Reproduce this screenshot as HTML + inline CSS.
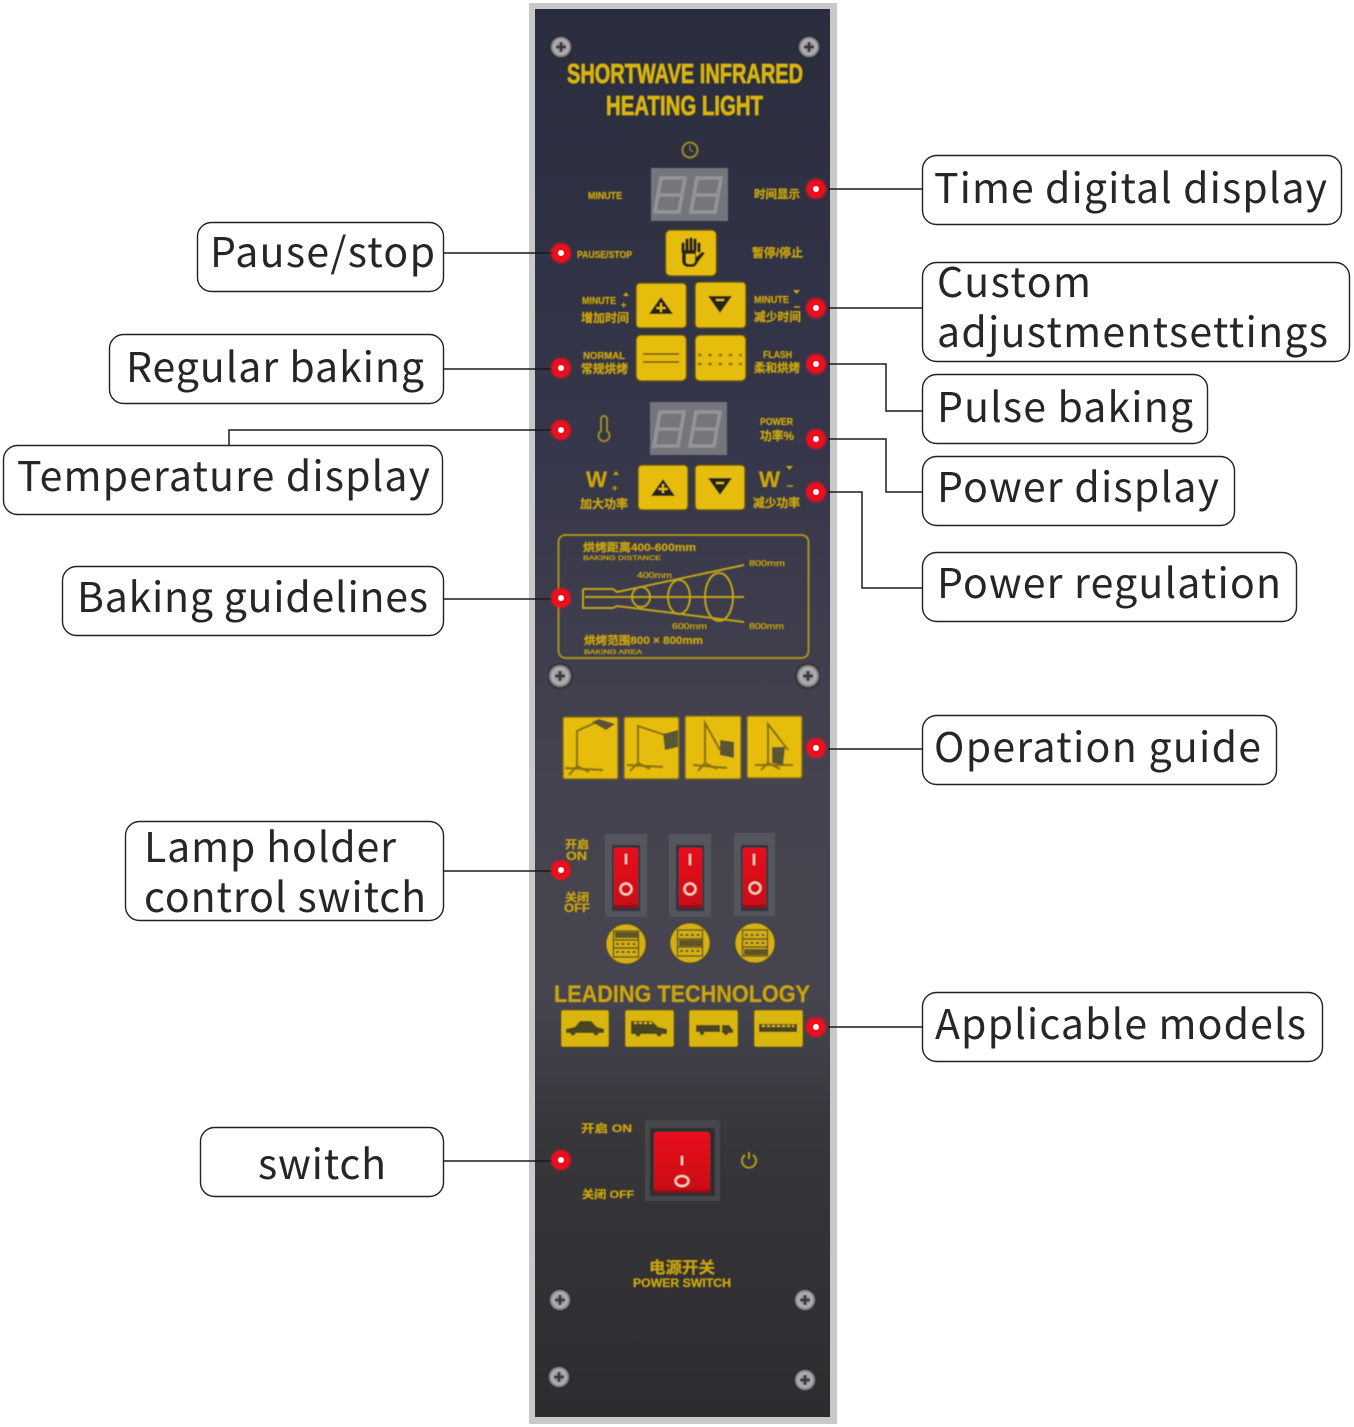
<!DOCTYPE html>
<html lang="en"><head><meta charset="utf-8"><title>Shortwave infrared heating light panel</title>
<style>
html,body{margin:0;padding:0;background:#fff}
svg{display:block}
.lb{font-family:"Noto Sans CJK SC","Liberation Sans",sans-serif;font-size:41px;fill:#262626}
.y{font-family:"Liberation Sans","Noto Sans CJK SC",sans-serif;font-weight:700;fill:#c9a40e;stroke:#c9a40e;stroke-width:.3}
.box{fill:#fff;stroke:#222;stroke-width:1.4}
.c{fill:none;stroke:#1a1a1a;stroke-width:1.5}
.btn{fill:#e6bd10;stroke:#5c5118;stroke-width:1.5}
.dg{fill:none;stroke:#939498;stroke-width:3.6}
.ic{fill:none;stroke:#8a7310;stroke-width:2.2}
.gl{fill:none;stroke:#c2a416;stroke-width:2}
.sw{fill:none;stroke:#f0d8c8;stroke-width:2}
.rk{fill:none;stroke:#5f5522;stroke-width:1.4}
</style></head><body>
<svg width="1354" height="1427" viewBox="0 0 1354 1427" xmlns="http://www.w3.org/2000/svg">
<defs>
<linearGradient id="pg" x1="0" y1="0" x2="0" y2="1">
<stop offset="0" stop-color="#2a2d3e"/><stop offset=".3" stop-color="#35364a"/><stop offset=".55" stop-color="#45434f"/><stop offset=".7" stop-color="#46444f"/><stop offset=".8" stop-color="#37363b"/><stop offset="1" stop-color="#2d2c2f"/>
</linearGradient>
<linearGradient id="rd" x1="0" y1="0" x2="0" y2="1"><stop offset="0" stop-color="#e8101c"/><stop offset=".92" stop-color="#cc0e16"/><stop offset="1" stop-color="#7c0a10"/></linearGradient>
<radialGradient id="scr"><stop offset="0" stop-color="#77777a"/><stop offset=".65" stop-color="#b4b4b6"/><stop offset="1" stop-color="#58585d"/></radialGradient>
<filter id="soft" x="0" y="0" width="1" height="1"><feGaussianBlur stdDeviation="0.65"/></filter>
<filter id="glow" x="-60%" y="-60%" width="220%" height="220%"><feGaussianBlur stdDeviation="1.3"/></filter>
</defs>

<rect x="529" y="3" width="308" height="1421" fill="#c9c9c9"/>
<rect x="535" y="9" width="295" height="1408" fill="url(#pg)"/>

<g filter="url(#soft)">
<!-- screws -->
<g fill="url(#scr)" stroke="#2b2b2e" stroke-width="1.5">
<circle cx="561" cy="47" r="11"/><circle cx="809" cy="47" r="11"/><circle cx="560" cy="676" r="12"/><circle cx="808" cy="676" r="12"/><circle cx="560" cy="1300" r="11"/><circle cx="805" cy="1300" r="11"/><circle cx="559" cy="1377" r="11"/><circle cx="805" cy="1380" r="11"/>
</g>
<g stroke="#3a3a3c" stroke-width="3">
<path d="M556 47h10M561 42v10M804 47h10M809 42v10M555 676h10M560 671v10M803 676h10M808 671v10M555 1300h10M560 1295v10M800 1300h10M805 1295v10M554 1377h10M559 1372v10M800 1380h10M805 1375v10"/>
</g>

<!-- title -->
<text class="y" x="567" y="83" font-size="27.500" textLength="236" lengthAdjust="spacingAndGlyphs" style="fill:#d8b410;stroke:#d8b410;stroke-width:.8">SHORTWAVE  INFRARED</text>
<text class="y" x="606" y="115" font-size="27.500" textLength="157" lengthAdjust="spacingAndGlyphs" style="fill:#d8b410;stroke:#d8b410;stroke-width:.8">HEATING LIGHT</text>
<circle cx="690" cy="150" r="7.500" fill="none" stroke="#a08c20" stroke-width="2"/>
<path d="M690 145v5l3 2" fill="none" stroke="#a08c20" stroke-width="1"/>

<!-- display 1 -->
<rect x="651" y="168" width="77" height="53" fill="#75767b"/>
<path class="dg" d="M661 178h24l-3 17h-24zM658 195l-3 17h24l3-17"/>
<path class="dg" d="M697 178h24l-3 17h-24zM694 195l-3 17h24l3-17"/>

<text class="y" x="588" y="199" font-size="10" textLength="34" lengthAdjust="spacingAndGlyphs">MINUTE</text>
<text class="y" x="754" y="198" font-size="11.500" textLength="46" lengthAdjust="spacingAndGlyphs">时间显示</text>
<text class="y" x="577" y="258" font-size="10" textLength="55" lengthAdjust="spacingAndGlyphs">PAUSE/STOP</text>
<text class="y" x="752" y="257" font-size="12" textLength="51" lengthAdjust="spacingAndGlyphs">暂停/停止</text>

<!-- hand button -->
<rect class="btn" x="665.500" y="230" width="51" height="46" rx="5"/>
<path d="M683 252v-8M687 250v-10M691 250v-11M695 250v-10M699 251v-7" stroke="#26241e" stroke-width="3.200" fill="none" stroke-linecap="round"/>
<path d="M682 250v10q0 7 7 7h3q4 0 6-5l7-9-3-1-6 5v-7z" fill="#26241e"/>
<path d="M686 254v8q0 2 3 2h3q2 0 3-3v-7z" fill="#e6bd10"/>

<!-- arrows row 1 -->
<rect class="btn" x="636" y="283" width="50.500" height="45" rx="4"/>
<path d="M661 297l12 17h-24z" fill="#26241e"/>
<path d="M661 303v9M656.500 308h9" stroke="#e6bd10" stroke-width="2"/>
<rect class="btn" x="695" y="282" width="51" height="46" rx="4"/>
<path d="M708 296h24l-12 17z" fill="#26241e"/>
<path d="M716 300h8" stroke="#e6bd10" stroke-width="2"/>
<text class="y" x="582" y="304" font-size="10" textLength="34" lengthAdjust="spacingAndGlyphs">MINUTE</text>
<path d="M623 296l3-4 3 4z" fill="#c9a40e"/>
<text class="y" x="621" y="308" font-size="9">+</text>
<text class="y" x="581" y="322" font-size="12" textLength="48" lengthAdjust="spacingAndGlyphs">增加时间</text>
<text class="y" x="754" y="303" font-size="10" textLength="35" lengthAdjust="spacingAndGlyphs">MINUTE</text>
<path d="M793 290h7l-3.500 4z" fill="#c9a40e"/>
<path d="M794 307h6" stroke="#c9a40e" stroke-width="1.500"/>
<text class="y" x="754" y="321" font-size="12" textLength="47" lengthAdjust="spacingAndGlyphs">减少时间</text>

<!-- row 2 -->
<rect class="btn" x="636" y="335" width="50.500" height="46" rx="5"/>
<path d="M643 354h36M643 362h36" stroke="#7c5f0c" stroke-width="1.800"/>
<rect class="btn" x="695" y="335" width="51" height="46" rx="5"/>
<path d="M698 355h44M698 364h44" stroke="#8a6c0c" stroke-width="2.600" stroke-dasharray="3.500 6.800"/>
<text class="y" x="583" y="359" font-size="10" textLength="42" lengthAdjust="spacingAndGlyphs">NORMAL</text>
<text class="y" x="581" y="373" font-size="12" textLength="47" lengthAdjust="spacingAndGlyphs">常规烘烤</text>
<text class="y" x="763" y="358" font-size="10" textLength="29" lengthAdjust="spacingAndGlyphs">FLASH</text>
<text class="y" x="754" y="372" font-size="12" textLength="46" lengthAdjust="spacingAndGlyphs">柔和烘烤</text>

<!-- temperature -->
<path d="M601 419a3 3 0 0 1 6 0v12a5.500 5.500 0 1 1-6 0z" fill="none" stroke="#a08c20" stroke-width="2"/>
<rect x="650" y="402" width="77" height="53" fill="#75767b"/>
<path class="dg" d="M660 412h24l-3 17h-24zM657 429l-3 17h24l3-17"/>
<path class="dg" d="M696 412h24l-3 17h-24zM693 429l-3 17h24l3-17"/>
<text class="y" x="760" y="425" font-size="10" textLength="33" lengthAdjust="spacingAndGlyphs">POWER</text>
<text class="y" x="760" y="440" font-size="12" textLength="34" lengthAdjust="spacingAndGlyphs">功率%</text>

<!-- power row -->
<rect class="btn" x="638" y="465" width="50" height="45" rx="4"/>
<path d="M663 479l12 17h-24z" fill="#26241e"/>
<path d="M663 484v9M658.500 489h9" stroke="#e6bd10" stroke-width="2"/>
<rect class="btn" x="695" y="465" width="50" height="45" rx="4"/>
<path d="M708 478h24l-12 17z" fill="#26241e"/>
<path d="M716 483h8" stroke="#e6bd10" stroke-width="2"/>
<text class="y" x="586" y="487" font-size="22" textLength="21" lengthAdjust="spacingAndGlyphs">W</text>
<path d="M613 475l3-4 3 4z" fill="#c9a40e"/>
<text class="y" x="612" y="491" font-size="9">+</text>
<text class="y" x="580" y="508" font-size="12" textLength="48" lengthAdjust="spacingAndGlyphs">加大功率</text>
<text class="y" x="759" y="487" font-size="22" textLength="21" lengthAdjust="spacingAndGlyphs">W</text>
<path d="M786 466h7l-3.500 4z" fill="#c9a40e"/>
<path d="M787 486h6" stroke="#c9a40e" stroke-width="1.500"/>
<text class="y" x="753" y="507" font-size="12" textLength="47" lengthAdjust="spacingAndGlyphs">减少功率</text>

<!-- guideline box -->
<rect x="558.500" y="535" width="250" height="123" rx="7" fill="none" stroke="#a8921f" stroke-width="2"/>
<text class="y" x="583" y="551" font-size="11" textLength="113" lengthAdjust="spacingAndGlyphs">烘烤距离400-600mm</text>
<text class="y" x="583" y="560" font-size="6.500" textLength="78" lengthAdjust="spacingAndGlyphs" style="font-weight:400">BAKING DISTANCE</text>
<text class="y" x="749" y="566" font-size="8" textLength="36" lengthAdjust="spacingAndGlyphs" style="font-weight:400">800mm</text>
<text class="y" x="637" y="578" font-size="8" textLength="35" lengthAdjust="spacingAndGlyphs" style="font-weight:400">400mm</text>
<text class="y" x="672" y="629" font-size="8" textLength="35" lengthAdjust="spacingAndGlyphs" style="font-weight:400">600mm</text>
<text class="y" x="749" y="629" font-size="8" textLength="35" lengthAdjust="spacingAndGlyphs" style="font-weight:400">800mm</text>
<path class="gl" d="M583 589h30l4 3L744 565M583 589v19h30l4-2 127 16M585 597h159"/>
<ellipse class="gl" cx="641" cy="597" rx="9" ry="10"/>
<ellipse class="gl" cx="679" cy="597" rx="11" ry="17"/>
<ellipse class="gl" cx="719" cy="597" rx="14" ry="24"/>
<text class="y" x="584" y="644" font-size="11" textLength="119" lengthAdjust="spacingAndGlyphs">烘烤范围800 × 800mm</text>
<text class="y" x="584" y="654" font-size="6.500" textLength="58" lengthAdjust="spacingAndGlyphs" style="font-weight:400">BAKING AREA</text>

<!-- lamp icons -->
<rect class="btn" x="563" y="717" width="55" height="62" rx="2" style="stroke:#77671a"/>
<rect class="btn" x="624" y="717" width="55" height="62" rx="2" style="stroke:#77671a"/>
<rect class="btn" x="685" y="716" width="56" height="63" rx="2" style="stroke:#77671a"/>
<rect class="btn" x="747" y="716" width="55" height="62" rx="2" style="stroke:#77671a"/>
<path class="ic" d="M565 768l38 2M577 766l-8 9M577 766l12 6M577 766V731l20-9"/>
<path d="M592 722l7-3 16 5-9 6z" fill="#5a5530"/>
<path class="ic" d="M627 765l36 2M638 763l-8 8M638 763l12 6M638 763V726l27 9"/>
<path d="M663 734l15-4v17l-13 3z" fill="#5a5530"/>
<path class="ic" d="M693 765l34 3M705 763l-7 8M705 763l12 6M705 763V723l15 27"/>
<path d="M720 740l14 2v16l-14-3z" fill="#5a5530"/>
<path class="ic" d="M755 765l38 0M768 763l-7 7M768 763l12 6M768 763V724l20 26"/>
<path d="M772 747h13l-2 18-11-2z" fill="#5a5530"/>

<!-- rocker switches -->
<text class="y" x="565" y="848" font-size="11" textLength="24" lengthAdjust="spacingAndGlyphs">开启</text>
<text class="y" x="566" y="860" font-size="12" textLength="21" lengthAdjust="spacingAndGlyphs">ON</text>
<text class="y" x="565" y="901" font-size="11" textLength="24" lengthAdjust="spacingAndGlyphs">关闭</text>
<text class="y" x="564" y="912" font-size="12" textLength="26" lengthAdjust="spacingAndGlyphs">OFF</text>

<g fill="#55545d"><rect x="605" y="834" width="42" height="83"/><rect x="669" y="834" width="42" height="83"/><rect x="734" y="833" width="41" height="83"/></g>
<g fill="#34333a"><rect x="612" y="845" width="28" height="66"/><rect x="676" y="845" width="28" height="66"/><rect x="741" y="845" width="27" height="66"/></g>
<g fill="url(#rd)"><rect x="614" y="848" width="24" height="60" rx="2"/><rect x="679" y="848" width="23" height="60" rx="2"/><rect x="743" y="848" width="23" height="60" rx="2"/></g>
<path class="sw" d="M626 854v10M690 854v11M754 854v11"/>
<circle class="sw" cx="626" cy="889" r="5.500"/><circle class="sw" cx="690" cy="889" r="5.500"/><circle class="sw" cx="755" cy="888" r="5.500"/>

<g fill="#d4b012" stroke="#5c5118" stroke-width="1"><circle cx="626" cy="944" r="20"/><circle cx="690" cy="943" r="20"/><circle cx="755" cy="943" r="20"/></g>
<g fill="#5f5522">
<rect x="615" y="932" width="23" height="6"/>
<rect x="679" y="940" width="23" height="6"/>
<rect x="744" y="949" width="23" height="6"/>
</g>
<g class="rk">
<rect class="rk" x="613.500" y="931" width="25" height="26"/><path class="rk" d="M614 940h24M614 948h24"/>
<rect class="rk" x="677.500" y="930" width="25" height="26"/><path class="rk" d="M678 939h24M678 947h24"/>
<rect class="rk" x="742.500" y="930" width="25" height="26"/><path class="rk" d="M743 939h24M743 947h24"/>
</g>
<path d="M616 944h20M616 952h20M680 935h20M680 951h20M745 935h20M745 943h20" stroke="#5f5522" stroke-width="2" stroke-dasharray="3 2.500"/>

<text class="y" x="554" y="1002" font-size="24" textLength="256" lengthAdjust="spacingAndGlyphs">LEADING TECHNOLOGY</text>

<!-- vehicles -->
<g fill="#d9b60a" stroke="#6a5c16" stroke-width="1">
<rect x="561" y="1010" width="48" height="37" rx="2"/><rect x="625" y="1010" width="49" height="37" rx="2"/><rect x="689" y="1010" width="49" height="37" rx="2"/><rect x="754" y="1010" width="49" height="37" rx="2"/>
</g>
<g fill="#4a4422">
<path d="M566 1029l9-2 5-6h11l6 6 7 2v4h-38z"/><circle cx="573" cy="1033" r="2.500"/><circle cx="596" cy="1033" r="2.500"/>
<path d="M631 1021h21l6 6 9 2v5h-36z"/><circle cx="638" cy="1034" r="2.500"/><circle cx="659" cy="1034" r="2.500"/>
<path d="M696 1025h24v7h-24zM722 1025h7l4 5v3h-11z"/><circle cx="702" cy="1033" r="2.200"/><circle cx="726" cy="1033" r="2.200"/>
<path d="M759 1024h38v8h-38z"/>
</g>
<path d="M634 1023h18M762 1026h32" stroke="#d9b60a" stroke-width="2" stroke-dasharray="3 2"/>

<!-- main switch -->
<text class="y" x="581" y="1132" font-size="11" textLength="51" lengthAdjust="spacingAndGlyphs">开启 ON</text>
<text class="y" x="582" y="1198" font-size="11" textLength="52" lengthAdjust="spacingAndGlyphs">关闭 OFF</text>
<rect x="645" y="1120" width="75" height="81" fill="#47464c"/>
<rect x="650" y="1128" width="65" height="68" fill="#2f2e33"/>
<rect x="654" y="1132" width="56" height="61" rx="3" fill="url(#rd)"/>
<path class="sw" d="M682 1156v9"/>
<ellipse class="sw" cx="682" cy="1181" rx="6.500" ry="5"/>
<path d="M745 1155a7 7 0 1 0 8 0M749 1152v7" fill="none" stroke="#b8951c" stroke-width="2"/>
<text class="y" x="649" y="1273" font-size="16" textLength="66" lengthAdjust="spacingAndGlyphs">电源开关</text>
<text class="y" x="633" y="1287" font-size="11.500" textLength="98" lengthAdjust="spacingAndGlyphs">POWER SWITCH</text>
</g>

<!-- connectors -->
<path class="c" d="M444 253H555M444 369H555M229 445V430H555M444 599H555M444 871H555M444 1161H555"/>
<path class="c" d="M828 189H922M828 308H922M828 364H886V411H922M828 439H886V492H922M828 492H862V588H922M828 749H922M828 1027H922"/>

<!-- red dots -->
<g fill="#f3101a" filter="url(#glow)">
<circle cx="561" cy="253" r="10"/><circle cx="561" cy="368" r="10"/><circle cx="561" cy="430" r="10"/><circle cx="561" cy="598" r="10"/><circle cx="561" cy="870" r="10"/><circle cx="561" cy="1160" r="10"/>
<circle cx="816" cy="189" r="10"/><circle cx="816" cy="308" r="10"/><circle cx="816" cy="364" r="10"/><circle cx="816" cy="439" r="10"/><circle cx="816" cy="492" r="10"/><circle cx="816" cy="748" r="10"/><circle cx="816" cy="1027" r="10"/>
</g>
<g fill="#fff">
<circle cx="561" cy="253" r="3"/><circle cx="561" cy="368" r="3"/><circle cx="561" cy="430" r="3"/><circle cx="561" cy="598" r="3"/><circle cx="561" cy="870" r="3"/><circle cx="561" cy="1160" r="3"/>
<circle cx="816" cy="189" r="3"/><circle cx="816" cy="308" r="3"/><circle cx="816" cy="364" r="3"/><circle cx="816" cy="439" r="3"/><circle cx="816" cy="492" r="3"/><circle cx="816" cy="748" r="3"/><circle cx="816" cy="1027" r="3"/>
</g>

<!-- label boxes -->
<rect class="box" x="197.500" y="222.500" width="246" height="69" rx="14"/>
<rect class="box" x="109.500" y="334.500" width="334" height="69" rx="14"/>
<rect class="box" x="3.500" y="445.500" width="439" height="69" rx="14"/>
<rect class="box" x="62.500" y="566.500" width="381" height="69" rx="14"/>
<rect class="box" x="125.500" y="821.500" width="318" height="99" rx="14"/>
<rect class="box" x="200.500" y="1127.500" width="243" height="69" rx="14"/>
<rect class="box" x="922.500" y="155.500" width="419" height="69" rx="14"/>
<rect class="box" x="922.500" y="262.500" width="427" height="99" rx="14"/>
<rect class="box" x="922.500" y="374.500" width="285" height="69" rx="14"/>
<rect class="box" x="922.500" y="456.500" width="312" height="69" rx="14"/>
<rect class="box" x="922.500" y="552.500" width="374" height="69" rx="14"/>
<rect class="box" x="922.500" y="715.500" width="354" height="69" rx="14"/>
<rect class="box" x="922.500" y="992.500" width="400" height="69" rx="14"/>

<text class="lb" x="210" y="267" textLength="225">Pause/stop</text>
<text class="lb" x="126" y="382" textLength="298">Regular baking</text>
<text class="lb" x="17" y="491" textLength="413">Temperature display</text>
<text class="lb" x="77" y="612" textLength="351">Baking guidelines</text>
<text class="lb" x="144" y="862" textLength="252">Lamp holder</text>
<text class="lb" x="144" y="912" textLength="282">control switch</text>
<text class="lb" x="258" y="1179" textLength="128">switch</text>
<text class="lb" x="934" y="203" textLength="393">Time digital display</text>
<text class="lb" x="937" y="297" textLength="154">Custom</text>
<text class="lb" x="937" y="347" textLength="391">adjustmentsettings</text>
<text class="lb" x="937" y="422" textLength="256">Pulse baking</text>
<text class="lb" x="937" y="502" textLength="282">Power display</text>
<text class="lb" x="937" y="598" textLength="344">Power regulation</text>
<text class="lb" x="934" y="762" textLength="327">Operation guide</text>
<text class="lb" x="935" y="1039" textLength="371">Applicable models</text>
</svg>
</body></html>
